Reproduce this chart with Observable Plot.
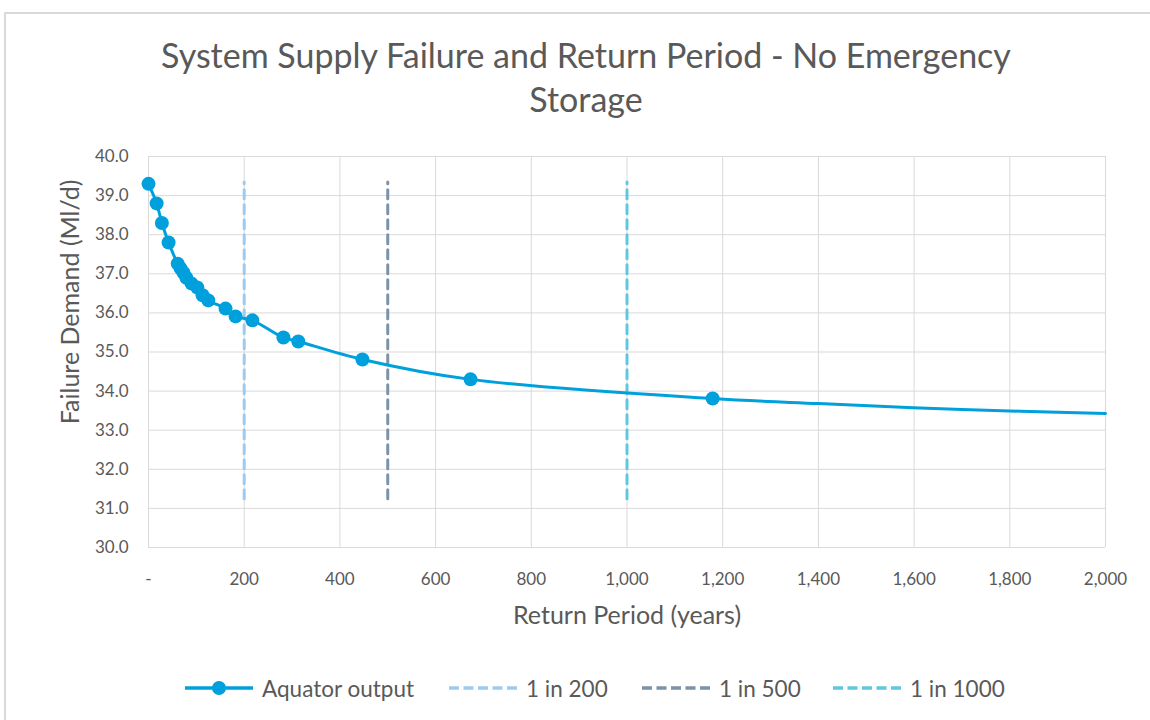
<!DOCTYPE html>
<html>
<head>
<meta charset="utf-8">
<script src="https://cdn.jsdelivr.net/npm/d3@7"></script>
<script src="https://cdn.jsdelivr.net/npm/@observablehq/plot@0.6"></script>
<style>
  body { margin: 0; background: #fff; font-family: Lato, "Open Sans", sans-serif; }
  #frame { position: absolute; left: 4px; top: 12px; width: 1160px; height: 740px; border: 2px solid #d9d9d9; box-sizing: border-box; }
  #title { position: absolute; left: 0; width: 1172px; top: 33px; text-align: center; font-size: 34px; line-height: 44px; color: #595959; }
  #chart { position: absolute; left: 0; top: 130px; }
  #legend { position: absolute; top: 674px; left: 0; width: 1150px; height: 28px; font-size: 22.5px; color: #595959; }
  .li { position: absolute; top: 0; display: flex; align-items: center; height: 28px; }
  .li svg { margin-right: 9px; }
</style>
</head>
<body>
<div id="frame"></div>
<div id="title">System Supply Failure and Return Period - No Emergency<br>Storage</div>
<div id="chart"></div>
<div id="legend"></div>
<script>
// Aquator output points (with markers)
const returnPeriods = [0, 17, 28, 42, 61, 67, 73, 79, 90, 102, 113, 125, 161, 182, 217, 282, 313, 447, 673, 1179];
const failureDemand = [39.3, 38.8, 38.3, 37.8, 37.26, 37.14, 37.03, 36.9, 36.75, 36.65, 36.45, 36.32, 36.11, 35.91, 35.81, 35.37, 35.27, 34.81, 34.3, 33.81];
// continuation of the curve beyond the last marker
const tailPeriods = [1400, 1700, 2000];
const tailDemand = [33.68, 33.53, 33.43];
// reference return periods
const refPeriods = [200, 500, 1000];
const refNames = ["1 in 200", "1 in 500", "1 in 1000"];
const refColors = ["#9dcbef", "#7b93a6", "#5ec8e0"];
const refRange = [31.25, 39.35];
const seriesName = "Aquator output";
const lineColor = "#00a0dc";

const pts = returnPeriods.map((x, i) => ({x, y: failureDemand[i]}));
const linePts = pts.concat(tailPeriods.map((x, i) => ({x, y: tailDemand[i]})));
const refLines = refPeriods.flatMap((x, i) => [
  {x, y: refRange[0], name: refNames[i]},
  {x, y: refRange[1], name: refNames[i]}
]);

const chart = Plot.plot({
  width: 1150,
  height: 520,
  marginLeft: 148,
  marginRight: 45,
  marginTop: 26,
  marginBottom: 103,
  style: {fontFamily: "Lato, 'Open Sans', sans-serif", fontSize: "17px", color: "#595959", background: "transparent"},
  x: {domain: [0, 2000]},
  y: {domain: [30, 40]},
  color: {domain: refNames, range: refColors},
  marks: [
    Plot.gridX(d3.range(0, 2001, 200), {stroke: "#d9d9d9", strokeOpacity: 1, strokeWidth: 1}),
    Plot.gridY(d3.range(30, 40.01, 1), {stroke: "#d9d9d9", strokeOpacity: 1, strokeWidth: 1}),
    Plot.axisY(d3.range(30, 40.01, 1), {tickSize: 0, tickPadding: 20, tickFormat: d3.format(".1f"),
      label: "Failure Demand (Ml/d)", labelAnchor: "center", labelOffset: 87, labelArrow: "none", fontSize: 17}),
    Plot.axisX(d3.range(0, 2001, 200), {tickSize: 0, tickPadding: 25,
      tickFormat: d => d === 0 ? "-" : d3.format(",")(d),
      label: "Return Period (years)", labelAnchor: "center", labelOffset: 76, labelArrow: "none", fontSize: 17}),
    Plot.line(refLines, {x: "x", y: "y", z: "name", stroke: "name", strokeWidth: 3, strokeDasharray: "9,6"}),
    Plot.line(linePts, {x: "x", y: "y", stroke: lineColor, strokeWidth: 3, curve: "catmull-rom"}),
    Plot.dot(pts, {x: "x", y: "y", r: 7, fill: lineColor, stroke: "none"})
  ]
});
// axis label styling
chart.querySelectorAll("[aria-label='y-axis label'] text, [aria-label='x-axis label'] text").forEach(t => t.setAttribute("font-size", "25px"));
const yl = chart.querySelector("[aria-label='y-axis label']");
if (yl) yl.setAttribute("transform", (yl.getAttribute("transform") || "") + " translate(0,-50)");
document.getElementById("chart").appendChild(chart);

// legend
const legend = document.getElementById("legend");
function item(left, svg, text) {
  const d = document.createElement("div");
  d.className = "li";
  d.style.left = left + "px";
  d.innerHTML = svg + "<span>" + text + "</span>";
  legend.appendChild(d);
}
item(185, `<svg width="68" height="20"><line x1="0" y1="10" x2="68" y2="10" stroke="${lineColor}" stroke-width="3.5"/><circle cx="34" cy="10" r="7" fill="${lineColor}"/></svg>`, seriesName);
const refLeft = [449, 642, 833];
refNames.forEach((n, i) => {
  item(refLeft[i], `<svg width="68" height="20"><line x1="0" y1="10" x2="68" y2="10" stroke="${refColors[i]}" stroke-width="3.5" stroke-dasharray="10,4.5"/></svg>`, n);
});
</script>
</body>
</html>
